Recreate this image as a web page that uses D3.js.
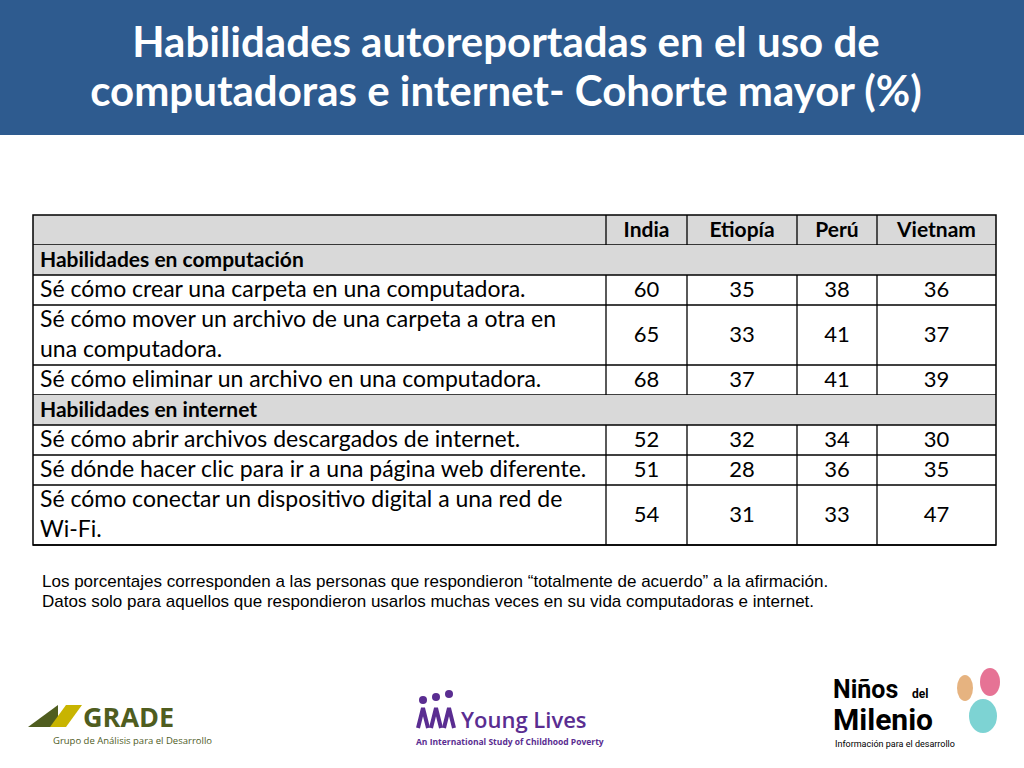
<!DOCTYPE html>
<html><head><meta charset="utf-8">
<script src="https://cdn.jsdelivr.net/npm/d3@7"></script>
<style>body{margin:0;background:#fff}svg{display:block}</style>
</head><body><div id="chart"></div>
<script>
const countries = ["India", "Etiopía", "Perú", "Vietnam"];
const sections = ["Habilidades en computación", "Habilidades en internet"];
const statements = [
  ["Sé cómo crear una carpeta en una computadora."],
  ["Sé cómo mover un archivo de una carpeta a otra en", "una computadora."],
  ["Sé cómo eliminar un archivo en una computadora."],
  ["Sé cómo abrir archivos descargados de internet."],
  ["Sé dónde hacer clic para ir a una página web diferente."],
  ["Sé cómo conectar un dispositivo digital a una red de", "Wi-Fi."]
];
const statementSection = [0, 0, 0, 1, 1, 1];
const india = [60, 65, 68, 52, 51, 54];
const etiopia = [35, 33, 37, 32, 28, 31];
const peru = [38, 41, 41, 34, 36, 33];
const vietnam = [36, 37, 39, 30, 35, 47];
const notes = [
  "Los porcentajes corresponden a las personas que respondieron “totalmente de acuerdo” a la afirmación.",
  "Datos solo para aquellos que respondieron usarlos muchas veces en su vida computadoras e internet."
];

const svg = d3.select("#chart").append("svg").attr("width", 1024).attr("height", 768);
const font = "Lato, 'Open Sans', sans-serif";

// title bar
svg.append("rect").attr("width", 1024).attr("height", 135).attr("fill", "#2e5b8f");
svg.append("text").attr("x", 506).attr("y", 57).attr("text-anchor", "middle")
  .attr("fill", "#fff").attr("font-family", font).attr("font-weight", 700).attr("font-size", 42)
  .text("Habilidades autoreportadas en el uso de");
svg.append("text").attr("x", 506).attr("y", 106).attr("text-anchor", "middle")
  .attr("fill", "#fff").attr("font-family", font).attr("font-weight", 700).attr("font-size", 42)
  .text("computadoras e internet- Cohorte mayor (%)");

// build rows
const rows = [{ type: "head", h: 1 }];
statements.forEach((s, i) => {
  if (i === 0 || statementSection[i] !== statementSection[i - 1])
    rows.push({ type: "section", h: 1, label: sections[statementSection[i]] });
  rows.push({ type: "data", h: s.length, lines: s,
    vals: [india[i], etiopia[i], peru[i], vietnam[i]] });
});
const units = d3.cumsum(rows, (d) => d.h);
const total = units[units.length - 1];
const y = d3.scaleLinear().domain([0, total]).range([215, 545]);
const colX = [33, 606, 687, 797, 877, 996];

const g = svg.append("g").attr("font-family", font).attr("font-size", 23).attr("fill", "#000");
rows.forEach((r, i) => {
  const y0 = y(i === 0 ? 0 : units[i - 1]);
  const y1 = y(units[i]);
  const mid = (y0 + y1) / 2;
  if (r.type !== "data")
    g.append("rect").attr("x", 33).attr("y", y0).attr("width", 963).attr("height", y1 - y0).attr("fill", "#d9d9d9");
  if (r.type === "head") {
    countries.forEach((c, j) => {
      g.append("text").attr("x", (colX[j + 1] + colX[j + 2]) / 2).attr("y", mid + 7)
        .attr("text-anchor", "middle").attr("font-weight", 700).attr("font-size", 21).text(c);
    });
  } else if (r.type === "section") {
    g.append("text").attr("x", 40).attr("y", mid + 7).attr("font-weight", 700).attr("font-size", 21).text(r.label);
  } else {
    const lh = (y1 - y0) / r.h;
    r.lines.forEach((l, k) => g.append("text").attr("x", 40).attr("y", y0 + lh * k + lh / 2 + 7).text(l));
    r.vals.forEach((v, j) => {
      g.append("text").attr("x", (colX[j + 1] + colX[j + 2]) / 2).attr("y", mid + 7)
        .attr("text-anchor", "middle").attr("font-size", 22).text(v);
    });
  }
  g.append("line").attr("x1", 33).attr("x2", 996).attr("y1", y1).attr("y2", y1).attr("stroke", "#000").attr("stroke-width", 1.3);
  if (r.type !== "section")
    colX.slice(1, 5).forEach((cx) => g.append("line").attr("x1", cx).attr("x2", cx).attr("y1", y0).attr("y2", y1).attr("stroke", "#000").attr("stroke-width", 1.3));
});
g.append("rect").attr("x", 33).attr("y", 215).attr("width", 963).attr("height", 330)
  .attr("fill", "none").attr("stroke", "#000").attr("stroke-width", 1.5);

notes.forEach((n, i) => svg.append("text").attr("x", 42).attr("y", 587 + i * 20)
  .attr("font-family", "'Liberation Sans', Arial, sans-serif").attr("font-size", 17).text(n));

// logos (approximate)
const lg = svg.append("g");
lg.append("path").attr("d", "M28,727 L58,705 L58,727 Z").attr("fill", "#4f5d1f");
lg.append("path").attr("d", "M50,727 L66,705 L82,705 L66,727 Z").attr("fill", "#c8b400");
lg.append("text").attr("x", 83).attr("y", 727).attr("font-family", "'Open Sans', sans-serif").attr("font-weight", 700)
  .attr("font-size", 27).attr("fill", "#4f5d1f").text("GRADE");
lg.append("text").attr("x", 53).attr("y", 744).attr("font-family", "'Open Sans', sans-serif")
  .attr("font-size", 9.5).attr("fill", "#4f5d1f").text("Grupo de Análisis para el Desarrollo");

[0, 1, 2].forEach((k) => {
  lg.append("circle").attr("cx", 423 + k * 13).attr("cy", 700 - k * 3).attr("r", 4).attr("fill", "#5a2d91");
  lg.append("path").attr("d", `M${418 + k * 13},728 L${423 + k * 13},708 L${428 + k * 13},728`)
    .attr("stroke", "#5a2d91").attr("stroke-width", 4).attr("fill", "none");
});
lg.append("text").attr("x", 461).attr("y", 728).attr("font-family", "'Open Sans', sans-serif").attr("font-weight", 600)
  .attr("font-size", 22).attr("fill", "#5a2d91").text("Young Lives");
lg.append("text").attr("x", 416).attr("y", 745).attr("font-family", "'Open Sans', sans-serif").attr("font-weight", 700)
  .attr("font-size", 8.5).attr("fill", "#5a2d91").text("An International Study of Childhood Poverty");

lg.append("text").attr("x", 833).attr("y", 698).attr("font-family", "Roboto, sans-serif").attr("font-weight", 700)
  .attr("font-size", 25).text("Niños");
lg.append("text").attr("x", 912).attr("y", 698).attr("font-family", "Roboto, sans-serif").attr("font-weight", 700)
  .attr("font-size", 12).text("del");
lg.append("text").attr("x", 833).attr("y", 730).attr("font-family", "Roboto, sans-serif").attr("font-weight", 700)
  .attr("font-size", 30).text("Milenio");
lg.append("text").attr("x", 835).attr("y", 747).attr("font-family", "Roboto, sans-serif")
  .attr("font-size", 9).text("Información para el desarrollo");
lg.append("ellipse").attr("cx", 965).attr("cy", 688).attr("rx", 8).attr("ry", 13).attr("fill", "#e0a060").attr("opacity", 0.8);
lg.append("ellipse").attr("cx", 990).attr("cy", 682).attr("rx", 10).attr("ry", 14).attr("fill", "#e0507a").attr("opacity", 0.8);
lg.append("ellipse").attr("cx", 983).attr("cy", 716).attr("rx", 14).attr("ry", 17).attr("fill", "#5cc8c8").attr("opacity", 0.8);
</script></body></html>
